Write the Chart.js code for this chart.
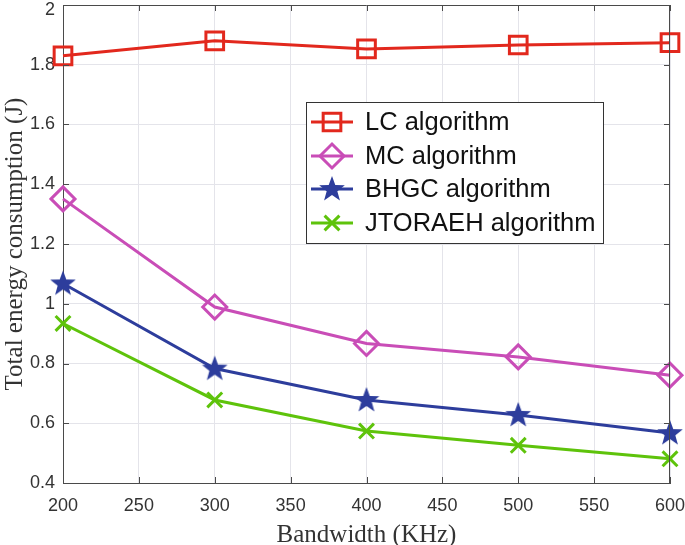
<!DOCTYPE html>
<html>
<head>
<meta charset="utf-8">
<script src="https://cdn.jsdelivr.net/npm/chart.js@4"></script>
<style>
  html, body { margin: 0; padding: 0; background: #fff; }
  #wrap { width: 685px; height: 545px; }
</style>
</head>
<body>
<div id="wrap"><canvas id="chart" width="685" height="545"></canvas></div>
<script>
const bandwidth = [200, 300, 400, 500, 600];
const lcValues = [1.83, 1.88, 1.853, 1.866, 1.874];
const mcValues = [1.351, 0.989, 0.867, 0.822, 0.761];
const bhgcValues = [1.068, 0.783, 0.678, 0.628, 0.567];
const jtoraehValues = [0.934, 0.678, 0.574, 0.526, 0.481];
const seriesNames = ['LC algorithm', 'MC algorithm', 'BHGC algorithm', 'JTORAEH algorithm'];
const xTicks = [200, 250, 300, 350, 400, 450, 500, 550, 600];
const yTicks = [0.4, 0.6, 0.8, 1, 1.2, 1.4, 1.6, 1.8, 2];

const colors = ['#e2281d', '#c94db7', '#2d3d9c', '#5ec30b'];

function makeStar(color) {
    const c = document.createElement('canvas');
    c.width = 30; c.height = 30;
    const g = c.getContext('2d');
    g.beginPath();
    for (let i = 0; i < 10; i++) {
        const r = i % 2 === 0 ? 13.5 : 5.6;
        const a = -Math.PI / 2 + i * Math.PI / 5;
        const px = 15 + r * Math.cos(a), py = 15.5 + r * Math.sin(a);
        if (i === 0) g.moveTo(px, py); else g.lineTo(px, py);
    }
    g.closePath();
    g.fillStyle = color;
    g.fill();
    return c;
}

const markers = [
    { pointStyle: 'rect', radius: 12.5 },
    { pointStyle: 'rectRot', radius: 12 },
    { pointStyle: makeStar(colors[2]), radius: 13 },
    { pointStyle: 'crossRot', radius: 10.5 },
];

const seriesValues = [lcValues, mcValues, bhgcValues, jtoraehValues];

const datasets = seriesValues.map((vals, i) => ({
    label: seriesNames[i],
    data: vals.map((v, j) => ({ x: bandwidth[j], y: v })),
    borderColor: colors[i],
    backgroundColor: 'rgba(0,0,0,0)',
    borderWidth: 3,
    pointStyle: markers[i].pointStyle,
    pointRadius: markers[i].radius,
    pointHoverRadius: markers[i].radius,
    pointBorderWidth: 3,
    pointBorderColor: colors[i],
    pointBackgroundColor: 'rgba(0,0,0,0)',
    tension: 0,
    clip: false,
}));

// box, inward ticks and the legend inside the plot
const boxPlugin = {
    id: 'box',
    afterDraw(chart) {
        const { ctx, chartArea: a, scales } = chart;
        ctx.save();
        ctx.strokeStyle = '#4a4a4a';
        ctx.lineWidth = 1;
        ctx.beginPath();
        ctx.moveTo(a.left, a.top + 0.5); ctx.lineTo(a.right, a.top + 0.5);
        ctx.moveTo(a.right - 0.5, a.top); ctx.lineTo(a.right - 0.5, a.bottom);
        xTicks.forEach((t) => {
            const px = Math.round(scales.x.getPixelForValue(t)) + 0.5;
            ctx.moveTo(px, a.bottom); ctx.lineTo(px, a.bottom - 6);
            ctx.moveTo(px, a.top); ctx.lineTo(px, a.top + 6);
        });
        yTicks.forEach((t) => {
            const py = Math.round(scales.y.getPixelForValue(t)) + 0.5;
            ctx.moveTo(a.left, py); ctx.lineTo(a.left + 6, py);
            ctx.moveTo(a.right, py); ctx.lineTo(a.right - 6, py);
        });
        ctx.stroke();

        // legend
        const lx = 306, ly = 102, lw = 297, lh = 141;
        ctx.fillStyle = '#ffffff';
        ctx.fillRect(lx, ly, lw, lh);
        ctx.strokeStyle = '#333333';
        ctx.strokeRect(lx + 0.5, ly + 0.5, lw, lh);
        const rows = [122, 156, 189, 223];
        ctx.font = '25.5px "Liberation Sans", Arial, sans-serif';
        ctx.textBaseline = 'middle';
        rows.forEach((ry, i) => {
            ctx.strokeStyle = colors[i];
            ctx.lineWidth = 3;
            ctx.beginPath();
            ctx.moveTo(311, ry); ctx.lineTo(353, ry);
            ctx.stroke();
            ctx.fillStyle = 'rgba(0,0,0,0)';
            Chart.helpers.drawPoint(ctx, {
                pointStyle: markers[i].pointStyle,
                radius: markers[i].radius,
                rotation: 0,
                borderWidth: 3,
            }, 332, ry);
            ctx.fillStyle = '#111111';
            ctx.fillText(seriesNames[i], 365, ry + 1);
        });
        ctx.restore();
    },
};

const tickFont = '"Liberation Sans", Arial, sans-serif';

new Chart(document.getElementById('chart'), {
    type: 'line',
    data: { datasets },
    options: {
        responsive: false,
        animation: false,
        layout: { autoPadding: false, padding: { top: 5, right: 15, left: 0, bottom: 0 } },
        plugins: { legend: { display: false }, tooltip: { enabled: false } },
        scales: {
            x: {
                type: 'linear',
                min: 200,
                max: 600,
                afterFit: (s) => { s.height = 62; s.paddingLeft = 0; s.paddingRight = 0; },
                afterBuildTicks: (s) => { s.ticks = xTicks.map((v) => ({ value: v })); },
                grid: { color: '#e4e4ea', drawTicks: false },
                border: { color: '#4a4a4a', width: 1 },
                ticks: {
                    padding: 12,
                    color: '#333333',
                    font: { family: tickFont, size: 18 },
                    callback: (v) => String(v),
                },
                title: {
                    display: true,
                    text: 'Bandwidth (KHz)',
                    color: '#333333',
                    padding: { top: 0, bottom: -5 },
                    font: { family: '"Liberation Serif", "Times New Roman", serif', size: 25 },
                },
            },
            y: {
                type: 'linear',
                min: 0.4,
                max: 2,
                afterFit: (s) => { s.width = 63; s.paddingTop = 0; s.paddingBottom = 0; },
                afterBuildTicks: (s) => { s.ticks = yTicks.map((v) => ({ value: v })); },
                grid: { color: '#e4e4ea', drawTicks: false },
                border: { color: '#4a4a4a', width: 1 },
                ticks: {
                    padding: 8,
                    color: '#333333',
                    // top label sits a little below its tick so it is not cut off
                    font: (c) => (c.tick && c.tick.value === 2
                        ? { family: tickFont, size: 18, lineHeight: 0.55 }
                        : { family: tickFont, size: 18 }),
                    callback: (v) => (v === 2 ? ['', '2'] : String(Math.round(v * 10) / 10)),
                },
                title: {
                    display: true,
                    text: 'Total energy consumption (J)',
                    color: '#333333',
                    padding: { top: 0, bottom: 0 },
                    font: { family: '"Liberation Serif", "Times New Roman", serif', size: 25 },
                },
            },
        },
    },
    plugins: [boxPlugin],
});
</script>
</body>
</html>
